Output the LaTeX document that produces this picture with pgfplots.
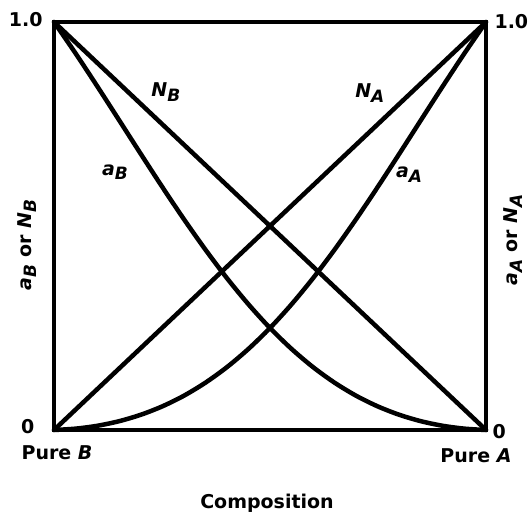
\documentclass[border=0pt]{standalone}
\usepackage{pgfplots}
\pgfplotsset{compat=1.18}
\usepackage{fontspec}
\setmainfont{DejaVu Sans}
% italic letter followed by a lowered italic subscript
\newcommand\sym[2]{\textit{#1}\raisebox{-0.45ex}{\textit{\fontsize{17}{18}\selectfont #2}}}
\pgfplotstableread{
x     aA
0.00  0.0000
0.05  0.0033
0.10  0.0103
0.15  0.0214
0.20  0.0370
0.25  0.0576
0.30  0.0836
0.35  0.1156
0.40  0.1538
0.45  0.1986
0.50  0.2500
0.55  0.3082
0.60  0.3726
0.65  0.4428
0.70  0.5178
0.75  0.5967
0.80  0.6781
0.85  0.7606
0.90  0.8427
0.95  0.9230
1.00  1.0000
}\actA
\pgfplotstableread{
x     aB
0.00  1.0000
0.05  0.9230
0.10  0.8427
0.15  0.7606
0.20  0.6781
0.25  0.5967
0.30  0.5178
0.35  0.4428
0.40  0.3726
0.45  0.3082
0.50  0.2500
0.55  0.1986
0.60  0.1538
0.65  0.1156
0.70  0.0836
0.75  0.0576
0.80  0.0370
0.85  0.0214
0.90  0.0103
0.95  0.0033
1.00  0.0000
}\actB
\begin{document}
\begin{tikzpicture}[font=\fontsize{19}{21}\selectfont\bfseries,
  curve/.style={black, line width=4.5pt, line cap=round, no marks, smooth}]
\begin{axis}[
  at={(0,0)}, anchor=origin,
  scale only axis, width=432pt, height=408pt,
  xmin=0, xmax=1, ymin=0, ymax=1,
  xtick=\empty, ytick=\empty,
  axis line style={line width=4pt, line join=miter},
  clip=false,
]
% mole fractions
\addplot[curve] coordinates {(0,0) (1,1)};
\addplot[curve] coordinates {(0,1) (1,0)};
% activities
\addplot[curve] table[x=x, y=aA] {\actA};
\addplot[curve] table[x=x, y=aB] {\actB};
% curve labels
\node at (axis cs:0.259,0.828) {\sym{N}{B}};
\node at (axis cs:0.141,0.632) {\sym{a}{B}};
\node at (axis cs:0.731,0.826) {\sym{N}{A}};
\node at (axis cs:0.822,0.625) {\sym{a}{A}};
% corner values
\node[anchor=east] at (axis cs:0,1) [xshift=-8pt, yshift=2pt] {1.0};
\node[anchor=west] at (axis cs:1,1) [xshift=5pt, yshift=0pt] {1.0};
\node[anchor=east] at (axis cs:0,0) [xshift=-16pt, yshift=3pt] {0};
\node[anchor=west] at (axis cs:1,0) [xshift=3pt, yshift=-2pt] {0};
\end{axis}
\node at (3pt,-23pt) {Pure \textit{B}};
\node at (422pt,-26pt) {Pure \textit{A}};
\node at (213pt,-73pt) {Composition};
\node[rotate=90] at (-27pt,185pt) {\sym{a}{B} or \sym{N}{B}};
\node[rotate=90] at (459pt,190pt) {\sym{a}{A} or \sym{N}{A}};
\pgfresetboundingbox
\path[use as bounding box] (-54pt,-82pt) rectangle (474pt,430pt);
\end{tikzpicture}
\end{document}
